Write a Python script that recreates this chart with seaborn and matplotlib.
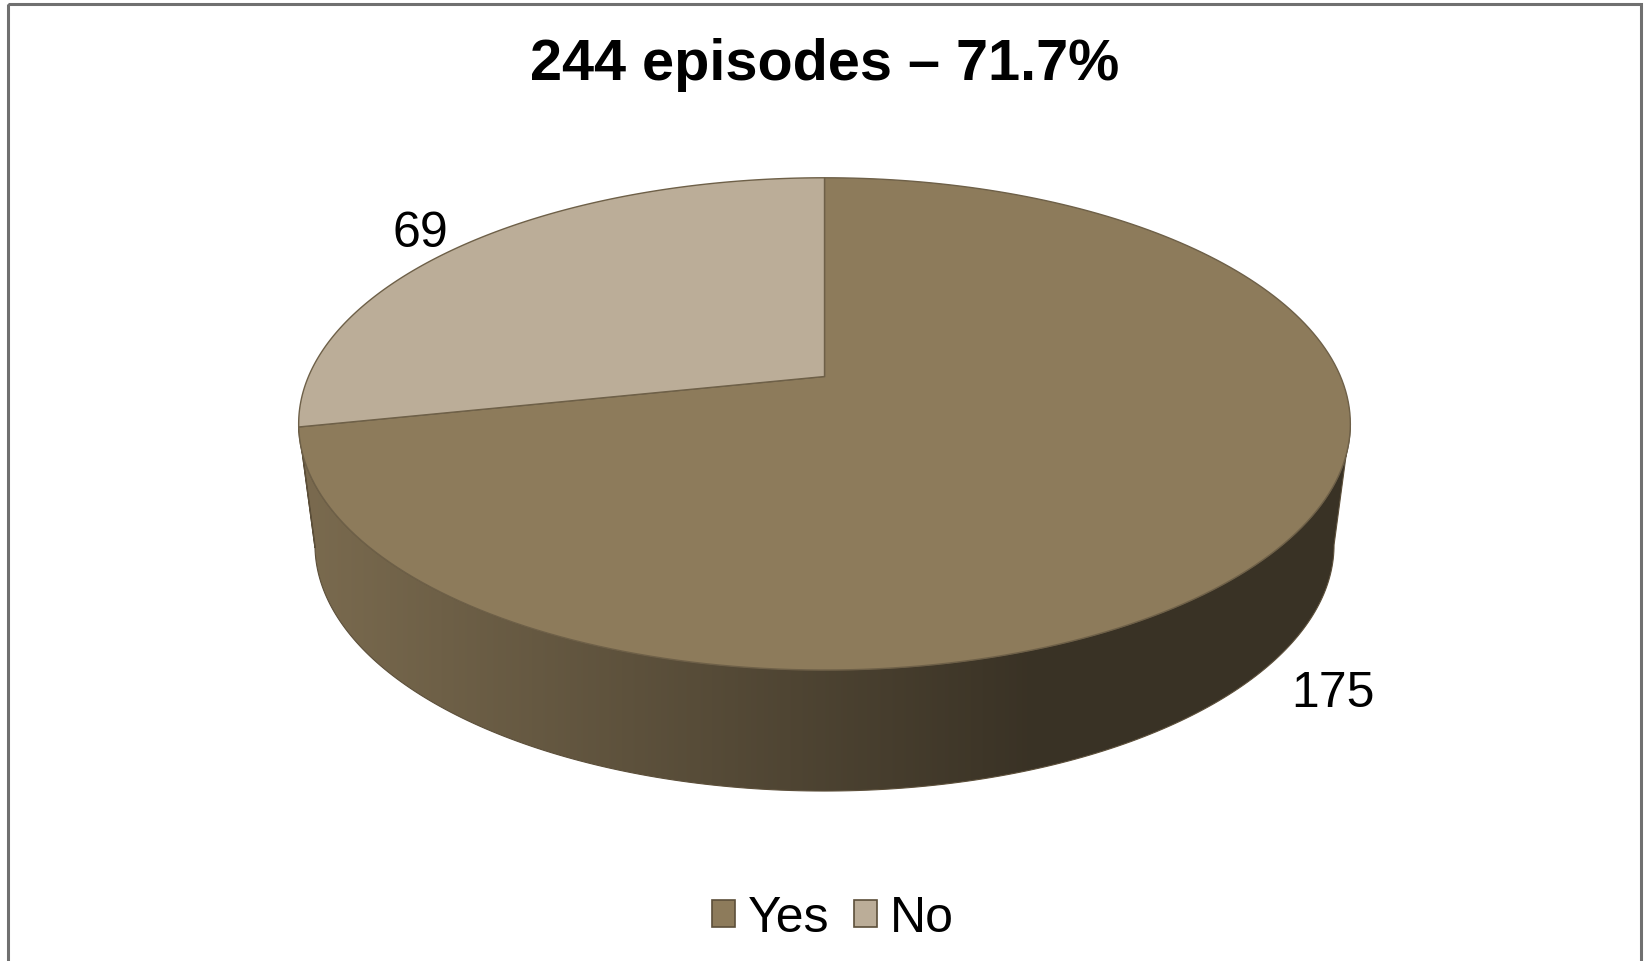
import numpy as np
import matplotlib
matplotlib.use("Agg")
import matplotlib.pyplot as plt
from matplotlib.patches import Polygon, Patch, Rectangle
import seaborn as sns

# ---- data ----
categories = ["Yes", "No"]
counts = [175, 69]
title_text = "244 episodes \u2013 71.7%"
slice_colors = ["#8d7b5b", "#bbad98"]

sns.set_theme(style="white")
plt.rcParams["font.family"] = ["Liberation Sans", "DejaVu Sans"]
plt.rcParams["text.color"] = "black"

W, H = 1649, 962
fig = plt.figure(figsize=(W / 100, H / 100), dpi=100)
ax = fig.add_axes([0, 0, 1, 1])
ax.set_xlim(0, W)
ax.set_ylim(H, 0)
ax.axis("off")

palette = sns.color_palette(slice_colors)

# perspective disc geometry (pixel space)
CX = 824.5
K = 0.1926            # perspective strength
B = 237.0             # vertical scale
CY_TOP, A_TOP = 377.5, 516.0
CY_BOT, A_BOT = 498.5, 500.0


def proj(t_deg, r, cy, a):
    t = np.radians(t_deg)
    x, y = r * np.cos(t), r * np.sin(t)
    w = 1 + K * y
    return CX + a * x / w, cy - B * y / w


def arc(t0, t1, cy, a, n=200):
    ts = np.linspace(t0, t1, n)
    X, Y = proj(ts, 1.0, cy, a)
    return np.column_stack([X, Y])


total = sum(counts)
fracs = [c / total for c in counts]

# slice angle ranges, starting at 12 o'clock, clockwise
spans = []
start = 90.0
for f in fracs:
    spans.append((start - f * 360, start))
    start -= f * 360

# visible front wall range
tk = np.degrees(np.arcsin(K))
vis_lo, vis_hi = -180 + tk, -tk


def wall_gradient(rgb):
    xs = np.linspace(290, 1360, 400)
    t = np.clip((xs - 314) / (1030 - 314), 0, 1)
    f = 0.86 - 0.45 * t
    img = np.array(rgb)[None, None, :] * f[None, :, None]
    return np.clip(img, 0, 1)


# side walls
for (lo, hi), col in zip(spans, palette):
    for shift in (-360, 0, 360):
        a0, a1 = max(lo + shift, vis_lo), min(hi + shift, vis_hi)
        if a1 <= a0:
            continue
        top = arc(a0, a1, CY_TOP, A_TOP)
        bot = arc(a1, a0, CY_BOT, A_BOT)
        pts = np.vstack([top, bot])
        poly = Polygon(pts, closed=True, facecolor="none",
                       edgecolor="#5c4f3a", lw=0.8, zorder=2)
        ax.add_patch(poly)
        im = ax.imshow(wall_gradient(col), extent=(290, 1360, 820, 380),
                       aspect="auto", interpolation="bilinear", zorder=1)
        im.set_clip_path(poly)

# top faces
for (lo, hi), col in zip(spans, palette):
    pts = np.vstack([[CX, CY_TOP], arc(hi, lo, CY_TOP, A_TOP)])
    ax.add_patch(Polygon(pts, closed=True, facecolor=col,
                         edgecolor="#6e6048", lw=1.0, zorder=3))

# value labels: front slices sit beside the wall, back slices beside the rim
for (lo, hi), c in zip(spans, counts):
    mid = (lo + hi) / 2
    if np.sin(np.radians(mid)) < 0:
        lx, ly = proj(mid, 1.13, CY_BOT, A_BOT)
    else:
        lx, ly = proj(mid, 1.15, CY_TOP, A_TOP)
        ly += 7
    ax.text(lx, ly, str(c), ha="center", va="center", fontsize=36,
            color="black", zorder=5)

ax.set_xlim(0, W)
ax.set_ylim(H, 0)

# outer frame
ax.add_patch(Rectangle((8, 5), 1633, 1000, fill=False, edgecolor="#707070",
                       lw=2.2, zorder=6))

fig.text(825 / W, 1 - 65 / H, title_text, ha="center", va="center",
         fontsize=41.5, fontweight="bold", color="black")

handles = [Patch(facecolor=c, edgecolor="#5c4f3a", lw=1.2, label=l)
           for c, l in zip(palette, categories)]
leg = ax.legend(handles=handles, loc="center",
                bbox_to_anchor=(0.5 + 8 / 1568, 1 - 919 / H),
                ncol=2, frameon=False, fontsize=36, handlelength=0.46,
                handleheight=0.46, handletextpad=0.25, columnspacing=0.5)
for txt in leg.get_texts():
    txt.set_color("black")

fig.savefig("out.png", dpi=100)
